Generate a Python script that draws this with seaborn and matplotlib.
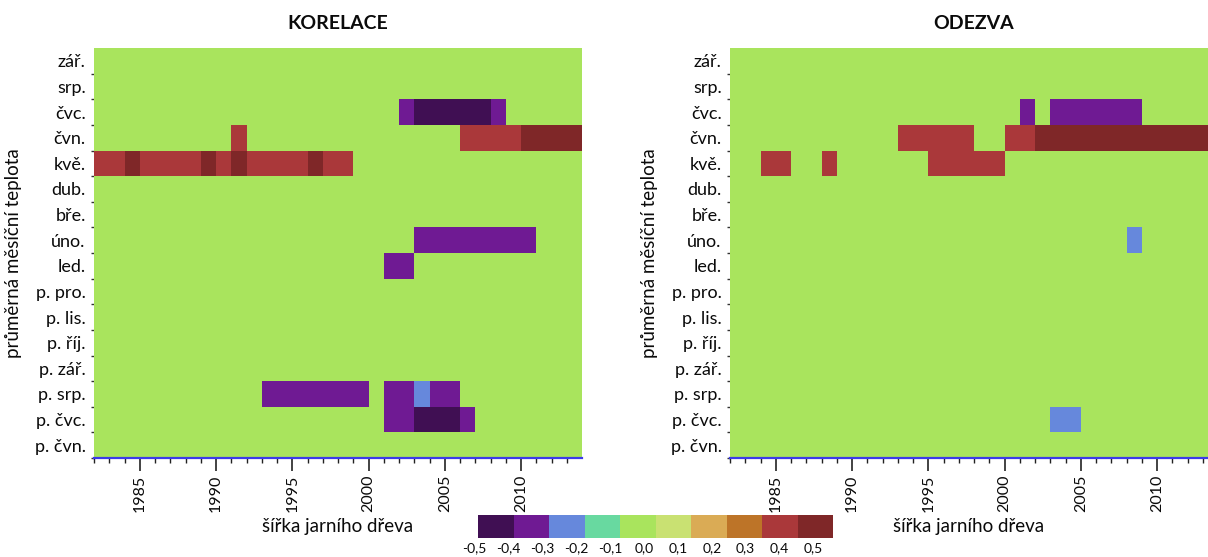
import numpy as np
import pandas as pd
import matplotlib
matplotlib.use("Agg")
import matplotlib.pyplot as plt
from matplotlib.colors import ListedColormap
from matplotlib.transforms import blended_transform_factory
import seaborn as sns

# ---- data -----------------------------------------------------------------
months = ["zář.", "srp.", "čvc.", "čvn.", "kvě.", "dub.", "bře.", "úno.", "led.",
          "p. pro.", "p. lis.", "p. říj.", "p. zář.", "p. srp.", "p. čvc.", "p. čvn."]
years = list(range(1982, 2014))
year_ticks = [1985, 1990, 1995, 2000, 2005, 2010]

# significant windows: (month, first year, last year, value); later rows overwrite
korelace_runs = [
    ("čvc.", 2002, 2002, -0.3), ("čvc.", 2003, 2007, -0.4), ("čvc.", 2008, 2008, -0.3),
    ("čvn.", 1991, 1991, 0.4), ("čvn.", 2006, 2009, 0.4), ("čvn.", 2010, 2013, 0.5),
    ("kvě.", 1982, 1998, 0.4), ("kvě.", 1984, 1984, 0.5), ("kvě.", 1989, 1989, 0.5),
    ("kvě.", 1991, 1991, 0.5), ("kvě.", 1996, 1996, 0.5),
    ("úno.", 2003, 2010, -0.3),
    ("led.", 2001, 2002, -0.3),
    ("p. srp.", 1993, 1999, -0.3), ("p. srp.", 2001, 2005, -0.3), ("p. srp.", 2003, 2003, -0.2),
    ("p. čvc.", 2001, 2006, -0.3), ("p. čvc.", 2003, 2005, -0.4),
]
odezva_runs = [
    ("čvc.", 2001, 2001, -0.3), ("čvc.", 2003, 2008, -0.3),
    ("čvn.", 1993, 1997, 0.4), ("čvn.", 2000, 2001, 0.4), ("čvn.", 2002, 2013, 0.5),
    ("kvě.", 1984, 1985, 0.4), ("kvě.", 1988, 1988, 0.4), ("kvě.", 1995, 1999, 0.4),
    ("úno.", 2008, 2008, -0.2),
    ("p. čvc.", 2003, 2004, -0.2),
]

legend_values = [-0.4, -0.3, -0.2, -0.1, 0.0, 0.1, 0.2, 0.3, 0.4, 0.5]
legend_colors = ["#400f53", "#6f1a93", "#6688dc", "#68d9a0", "#a9e45d",
                 "#c9e172", "#daab55", "#bd7428", "#aa383a", "#7f2728"]
legend_labels = ["-0,5", "-0,4", "-0,3", "-0,2", "-0,1", "0,0",
                 "0,1", "0,2", "0,3", "0,4", "0,5"]

panel_titles = ["KORELACE", "ODEZVA"]
x_title = "šířka jarního dřeva"
y_title = "průměrná měsíční teplota"


def build_grid(runs):
    grid = pd.DataFrame(0.0, index=months, columns=years)
    for month, y0, y1, val in runs:
        grid.loc[month, y0:y1] = val
    return grid


# ---- figure ---------------------------------------------------------------
sns.set_theme(style="white")
plt.rcParams["font.family"] = ["Lato", "DejaVu Sans"]

W, H = 1208, 557
fig = plt.figure(figsize=(W / 100, H / 100), dpi=100)


def px_axes(x0, y0, x1, y1):
    return fig.add_axes([x0 / W, 1 - y1 / H, (x1 - x0) / W, (y1 - y0) / H])


cmap = ListedColormap(legend_colors)
vmin, vmax = -0.45, 0.55
cell_px = 488 / len(years)

panels = [
    (build_grid(korelace_runs), px_axes(94, 48, 582, 458), panel_titles[0]),
    (build_grid(odezva_runs), px_axes(730, 48, 1208, 458), panel_titles[1]),
]

for grid, ax, title in panels:
    sns.heatmap(grid, ax=ax, cmap=cmap, vmin=vmin, vmax=vmax, cbar=False,
                xticklabels=False, yticklabels=False)
    width_px = ax.get_position().width * W
    ax.set_xlim(0, width_px / cell_px)
    ax.set_ylim(len(months), 0)

    ax.set_xticks([y - years[0] for y in year_ticks])
    ax.set_xticklabels([str(y) for y in year_ticks], rotation=90, fontsize=11.5)
    ax.set_xticks(np.arange(len(years)), minor=True)
    ax.set_yticks(np.arange(len(months)) + 0.5)
    ax.set_yticklabels(months, fontsize=13)
    ax.set_yticks(np.arange(1, len(months) + 1), minor=True)

    ax.tick_params(axis="x", which="major", bottom=True, length=9, width=1.2,
                   color="#222222", pad=3, labelcolor="#0a0a0a")
    ax.tick_params(axis="x", which="minor", bottom=True, length=3.5, width=1.0,
                   color="#222222")
    ax.tick_params(axis="y", which="major", left=True, length=0, pad=6,
                   labelcolor="#0a0a0a")
    ax.tick_params(axis="y", which="minor", left=True, length=2.5, width=1.0,
                   color="#333333")

    ax.spines["bottom"].set_visible(True)
    ax.spines["bottom"].set_color("#3b3be8")
    ax.spines["bottom"].set_linewidth(1.6)

    ax.set_xlabel(x_title, fontsize=13.5, labelpad=4, color="#0a0a0a")
    ax.set_ylabel(y_title, fontsize=13.5, labelpad=9, color="#0a0a0a")
    ax.text(len(years) / 2, 1.0 + 16 / 410, title,
            transform=blended_transform_factory(ax.transData, ax.transAxes),
            ha="center", va="bottom", fontsize=14, fontweight="bold",
            color="#0a0a0a")

# ---- legend strip ---------------------------------------------------------
cax = px_axes(478, 515, 833, 538)
sns.heatmap(np.array([legend_values]), ax=cax, cmap=cmap, vmin=vmin, vmax=vmax,
            cbar=False, xticklabels=False, yticklabels=False)
cax.set_xticks([])
cax.set_yticks([])
label_tr = blended_transform_factory(cax.transData, cax.transAxes)
n_lab = len(legend_labels)
for k, lab in enumerate(legend_labels):
    xpos = -0.1 + k * (9.55 / (n_lab - 1))
    cax.text(xpos, -0.45, lab, transform=label_tr, ha="center", va="center",
             fontsize=10, color="#0a0a0a")

fig.savefig("out.png", dpi=100)
